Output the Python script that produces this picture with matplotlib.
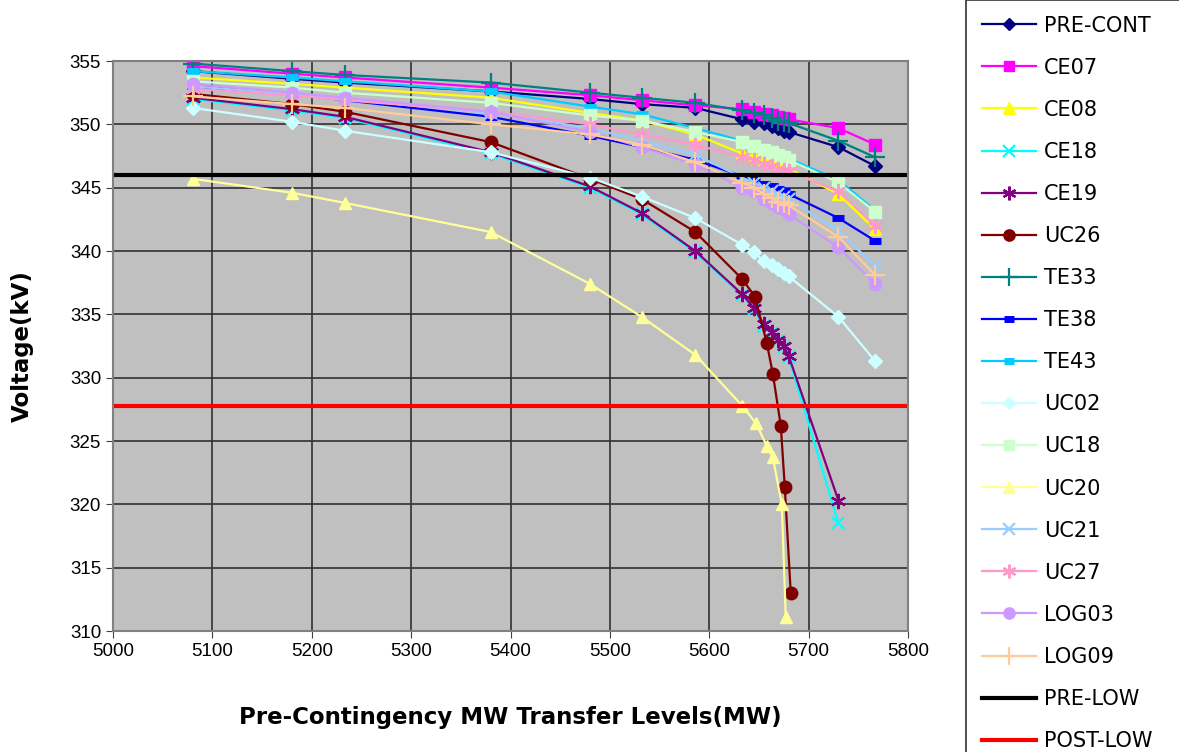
import matplotlib
matplotlib.use("Agg")
import matplotlib.pyplot as plt

plt.rcParams['font.family'] = ['Liberation Sans', 'DejaVu Sans']

# transfer levels (MW)
X_FULL = [5080, 5180, 5233, 5380, 5480, 5532, 5586, 5633, 5645, 5655, 5663, 5669, 5675, 5680, 5730, 5767]
X_CE19 = [5080, 5180, 5233, 5380, 5480, 5532, 5586, 5633, 5645, 5655, 5663, 5669, 5675, 5680, 5730]
X_UC26 = [5080, 5180, 5233, 5380, 5480, 5532, 5586, 5633, 5646, 5658, 5664, 5672, 5676, 5682]
X_UC20 = [5080, 5180, 5233, 5380, 5480, 5532, 5586, 5633, 5647, 5658, 5664, 5673, 5677]

pre_cont = [354.2, 353.6, 353.3, 352.6, 352.0, 351.6, 351.3, 350.4, 350.2, 350.1, 349.9, 349.7, 349.5, 349.4, 348.2, 346.7]
ce07     = [354.6, 354.0, 353.7, 352.9, 352.3, 351.9, 351.5, 351.2, 351.0, 350.8, 350.7, 350.6, 350.5, 350.4, 349.7, 348.4]
ce08     = [353.7, 353.2, 352.9, 352.1, 350.9, 350.3, 349.2, 347.7, 347.5, 347.3, 347.1, 346.9, 346.7, 346.5, 344.5, 341.7]
ce18     = [352.0, 351.1, 350.5, 347.7, 345.0, 342.9, 339.9, 336.5, 335.4, 334.1, 333.5, 332.9, 332.4, 331.6, 318.5]
ce19     = [352.1, 351.2, 350.6, 347.8, 345.1, 343.0, 340.0, 336.6, 335.5, 334.2, 333.6, 333.0, 332.5, 331.7, 320.3]
uc26     = [352.4, 351.6, 351.0, 348.6, 345.7, 344.1, 341.5, 337.8, 336.4, 332.7, 330.3, 326.2, 321.4, 313.0]
te33     = [354.8, 354.2, 353.9, 353.3, 352.5, 352.1, 351.7, 351.1, 350.9, 350.7, 350.5, 350.3, 350.2, 350.1, 348.7, 347.4]
te38     = [353.0, 352.4, 351.9, 350.6, 349.1, 348.2, 347.2, 345.9, 345.6, 345.3, 345.1, 344.9, 344.7, 344.5, 342.6, 340.8]
te43     = [354.2, 353.7, 353.4, 352.6, 351.4, 350.8, 349.7, 348.7, 348.4, 348.1, 347.9, 347.7, 347.5, 347.3, 345.6, 343.2]
uc02     = [351.3, 350.2, 349.5, 347.8, 345.8, 344.3, 342.6, 340.5, 339.9, 339.2, 338.9, 338.6, 338.3, 338.0, 334.8, 331.3]
uc18     = [353.4, 352.9, 352.5, 351.7, 350.7, 350.3, 349.4, 348.6, 348.3, 348.0, 347.8, 347.6, 347.4, 347.2, 345.4, 343.1]
uc20     = [345.7, 344.6, 343.8, 341.5, 337.4, 334.8, 331.8, 327.8, 326.4, 324.6, 323.7, 320.0, 311.1]
uc21     = [353.0, 352.4, 352.0, 350.9, 349.7, 348.7, 347.6, 345.8, 345.4, 345.0, 344.7, 344.5, 344.3, 344.1, 341.6, 338.8]
uc27     = [352.8, 352.3, 351.9, 351.0, 350.0, 349.2, 348.4, 347.4, 347.2, 346.9, 346.7, 346.5, 346.4, 346.3, 344.7, 342.0]
log03    = [353.2, 352.5, 352.1, 351.0, 349.4, 348.2, 346.8, 345.0, 344.7, 344.1, 343.8, 343.5, 343.3, 342.9, 340.3, 337.4]
log09    = [352.2, 351.6, 351.3, 350.0, 349.2, 348.4, 347.0, 345.4, 345.0, 344.5, 344.2, 343.9, 343.8, 343.6, 341.1, 338.1]

pre_low = 346.0
post_low = 327.8

ast = (6, 2, 0)
series = [
    ("PRE-CONT", X_FULL, pre_cont, "#000080", "D", dict(ms=7)),
    ("CE07", X_FULL, ce07, "#FF00FF", "s", dict(ms=8)),
    ("CE08", X_FULL, ce08, "#FFFF00", "^", dict(ms=9)),
    ("CE18", X_CE19, ce18, "#00FFFF", "x", dict(ms=9, mew=1.6)),
    ("CE19", X_CE19, ce19, "#800080", ast, dict(ms=11, mew=1.6)),
    ("UC26", X_UC26, uc26, "#800000", "o", dict(ms=9)),
    ("TE33", X_FULL, te33, "#008080", "+", dict(ms=14, mew=1.6)),
    ("TE38", X_FULL, te38, "#0000FF", "_", dict(ms=8, mew=5)),
    ("TE43", X_FULL, te43, "#00CCFF", "_", dict(ms=8, mew=5)),
    ("UC02", X_FULL, uc02, "#CCFFFF", "D", dict(ms=7)),
    ("UC18", X_FULL, uc18, "#CCFFCC", "s", dict(ms=8)),
    ("UC20", X_UC20, uc20, "#FFFF99", "^", dict(ms=9)),
    ("UC21", X_FULL, uc21, "#99CCFF", "x", dict(ms=9, mew=1.6)),
    ("UC27", X_FULL, uc27, "#FF99CC", ast, dict(ms=11, mew=1.6)),
    ("LOG03", X_FULL, log03, "#CC99FF", "o", dict(ms=9)),
    ("LOG09", X_FULL, log09, "#FFCC99", "+", dict(ms=14, mew=1.6)),
]

fig = plt.figure(figsize=(11.79, 7.52), dpi=100)
ax = fig.add_axes([113/1179, 1-631/752, (908-113)/1179, (631-61)/752])
ax.set_facecolor("#C0C0C0")

handles = []
for name, xs, ys, col, mk, kw in series:
    h, = ax.plot(xs, ys, color=col, marker=mk, lw=1.6, mfc=col, mec=col, label=name, **kw)
    handles.append(h)

h1 = ax.axhline(pre_low, color="black", lw=3, label="PRE-LOW")
h2 = ax.axhline(post_low, color="#FF0000", lw=3, label="POST-LOW")
handles += [h1, h2]

ax.set_xlim(5000, 5800)
ax.set_ylim(310, 355)
ax.set_xticks(range(5000, 5801, 100))
ax.set_yticks(range(310, 356, 5))
ax.grid(True, color="#303030", lw=1.2)
ax.set_axisbelow(True)
for s in ax.spines.values():
    s.set_color("#808080")
    s.set_linewidth(1.5)
ax.tick_params(axis="both", labelsize=13.5, length=5, color="#404040", direction="out")

ax.set_xlabel("Pre-Contingency MW Transfer Levels(MW)", fontsize=16.5, fontweight="bold",
              family="DejaVu Sans", labelpad=33)
ax.set_ylabel("Voltage(kV)", fontsize=16.5, fontweight="bold", family="DejaVu Sans", labelpad=26)

leg = fig.legend(handles=handles, loc="upper left",
                 bbox_to_anchor=(966/1179, 0.0, 1.02 - 966/1179, 1.0), mode="expand",
                 prop={"family": "DejaVu Sans", "size": 15},
                 frameon=True, fancybox=False, edgecolor="black",
                 labelspacing=1.06, handlelength=2.6, handletextpad=0.4,
                 borderpad=0.75, borderaxespad=0, markerscale=0.9)
leg.get_frame().set_linewidth(1.2)

fig.savefig("out.png", dpi=100, facecolor="white")
